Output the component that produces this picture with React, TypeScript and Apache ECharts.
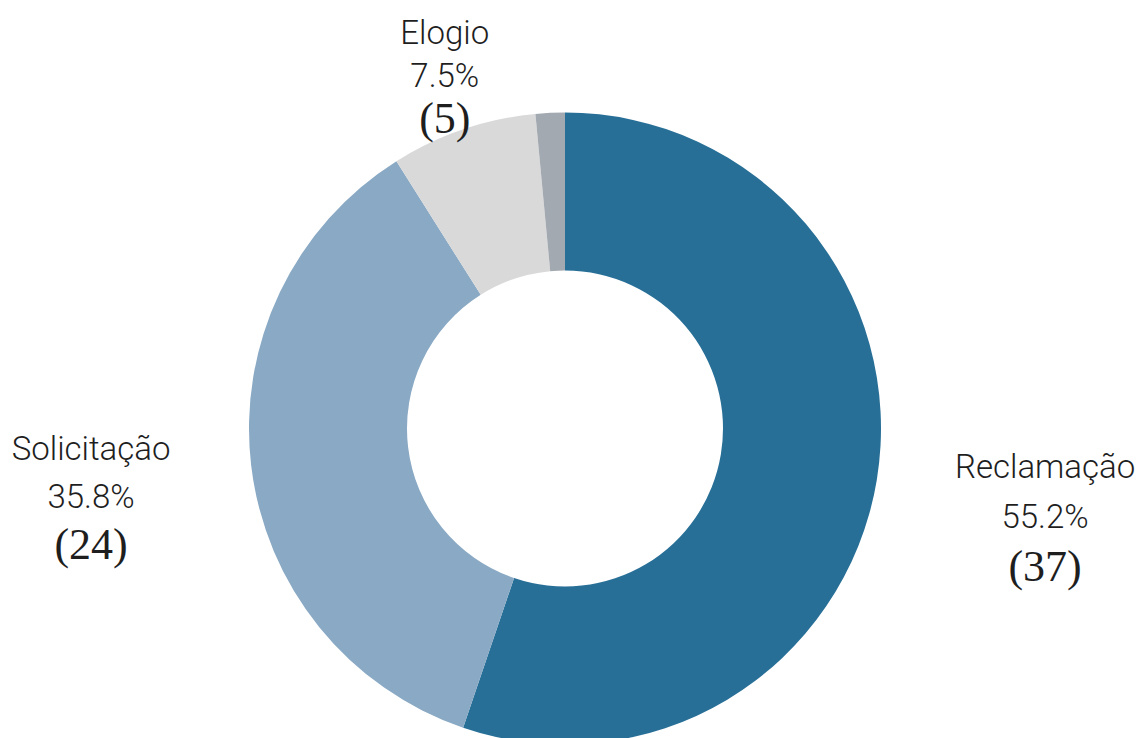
import React, { useEffect, useRef } from "react";
import * as echarts from "echarts";

const categories = ["Reclamação", "Solicitação", "Elogio", "Outros"];
const values = [37, 24, 5, 1];
const showLabel = [true, true, true, false];

const colors = ["#286f97", "#89a9c4", "#d9d9d9", "#a3a9b1"];
const labelDistance = [1.54, 1.51, 1.18, 1.3];
const labelDy = [8, 12, 0, 0];
const labelLineHeight = [50, 48, 43, 48];
const CX = 565;
const CY = 428.5;
const R_IN = 158;
const R_OUT = 316;

export default function App() {
  const ref = useRef<HTMLDivElement>(null);
  useEffect(() => {
    if (!ref.current) return;
    const chart = echarts.init(ref.current, null, { renderer: "svg" });
    const total = values.reduce((a, b) => a + b, 0);
    const midAngle = (i: number) => {
      let before = 0;
      for (let k = 0; k < i; k++) before += values[k];
      return ((before + values[i] / 2) / total) * Math.PI * 2;
    };
    const richFor = (lh: number) => ({
      n: { fontFamily: "Roboto", fontWeight: 300, fontSize: 33, lineHeight: lh, color: "#1e1e1e", align: "center" },
      p: { fontFamily: "Roboto", fontWeight: 300, fontSize: 33, lineHeight: lh, color: "#1e1e1e", align: "center" },
      c: { fontFamily: "Liberation Serif", fontSize: 44, lineHeight: lh, color: "#1e1e1e", align: "center" },
    });
    chart.setOption({
      animation: false,
      backgroundColor: "#ffffff",
      series: [
        {
          type: "pie",
          center: [CX, CY],
          radius: [R_IN, R_OUT],
          startAngle: 90,
          clockwise: true,
          percentPrecision: 1,
          avoidLabelOverlap: false,
          itemStyle: { borderWidth: 0 },
          emphasis: { disabled: true },
          labelLine: { show: false },
          label: {
            show: true,
            position: "outside",
            color: "#1e1e1e",
            formatter: (p: any) =>
              `{n|${p.name}}\n{p|${p.percent.toFixed(1)}%}\n{c|(${p.value})}`,
            rich: richFor(48),
          },
          labelLayout: (params: any) => {
            const i = params.dataIndex;
            const a = midAngle(i);
            const d = R_OUT * labelDistance[i];
            return {
              x: CX + d * Math.sin(a),
              y: CY - d * Math.cos(a) + labelDy[i],
              align: "center",
              verticalAlign: "middle",
            };
          },
          data: categories.map((name, i) => ({
            name,
            value: values[i],
            itemStyle: { color: colors[i] },
            label: { show: showLabel[i], rich: richFor(labelLineHeight[i]) },
          })),
        },
      ],
    });
    return () => chart.dispose();
  }, []);
  return (
    <div
      ref={ref}
      style={{ position: "absolute", left: 0, top: 0, width: 1140, height: 738 }}
    />
  );
}
